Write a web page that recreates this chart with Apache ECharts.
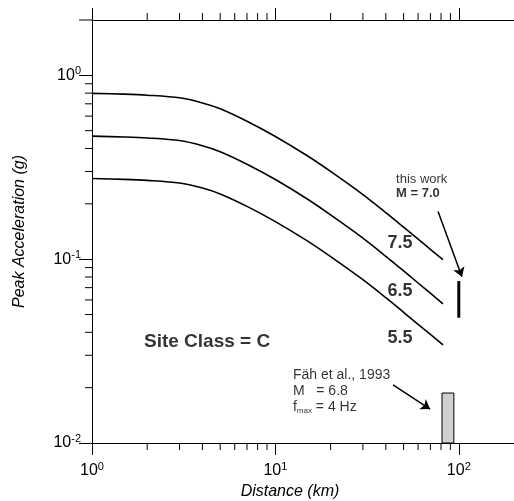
<!DOCTYPE html>
<html>
<head>
<meta charset="utf-8">
<script src="https://cdn.jsdelivr.net/npm/echarts@6/dist/echarts.min.js"></script>
<style>
html, body { margin: 0; padding: 0; background: #fff; }
#chart { width: 514px; height: 501px; }
</style>
</head>
<body>
<div id="chart"></div>
<script>
// distance (km) and peak acceleration (g)
var distances = [1, 1.5, 2, 3, 4, 5, 7, 10, 15, 20, 30, 40, 50, 60, 70, 82];
var pga75 = [0.798, 0.790, 0.780, 0.755, 0.708, 0.658, 0.563, 0.465, 0.364, 0.300, 0.2246, 0.1792, 0.1494, 0.1285, 0.1132, 0.0994];
var pga65 = [0.467, 0.462, 0.4564, 0.4417, 0.4139, 0.3843, 0.3286, 0.2712, 0.2118, 0.1741, 0.1302, 0.1037, 0.0864, 0.0742, 0.0653, 0.0572];
var pga55 = [0.2746, 0.2718, 0.2684, 0.2598, 0.2436, 0.2263, 0.1937, 0.1601, 0.1253, 0.1032, 0.0773, 0.0617, 0.0514, 0.0442, 0.0390, 0.0342];

var magNames = ['7.5', '6.5', '5.5'];
var magLabelAt = [[47.8, 0.123], [47.8, 0.0673], [47.8, 0.0373]];

// this work, M = 7.0
var thisWorkDist = 100;
var thisWorkPga = [0.048, 0.076];
// Fah et al. 1993 range
var fahDist = [81, 94];
var fahPga = [0.01, 0.0187];

var xMin = 1, xMax = 200, yMin = 0.01, yMax = 2;
var xMinor = [2, 3, 4, 5, 6, 7, 8, 9, 20, 30, 40, 50, 60, 70, 80, 90];
var yMinor = [0.02, 0.03, 0.04, 0.05, 0.06, 0.07, 0.08, 0.09, 0.2, 0.3, 0.4, 0.5, 0.6, 0.7, 0.8, 0.9];

var FONT = '"Liberation Sans", Arial, Helvetica, sans-serif';

function pairs(xs, ys) {
    var out = [];
    for (var i = 0; i < xs.length; i++) out.push([xs[i], ys[i]]);
    return out;
}

function powLabel(value) {
    var e = Math.round(Math.log(value) / Math.LN10);
    return '{b|10}{s|' + e + '}';
}

var labelRich = {
    b: { fontSize: 16, fontFamily: FONT, color: '#000', lineHeight: 20 },
    s: { fontSize: 11, fontFamily: FONT, color: '#000', lineHeight: 11, verticalAlign: 'top' }
};

function curve(name, data) {
    return {
        name: name,
        type: 'line',
        data: pairs(distances, data),
        smooth: 0.3,
        showSymbol: false,
        lineStyle: { color: '#000', width: 1.6 },
        z: 3
    };
}

function tickLine(x1, y1, x2, y2) {
    return { type: 'line', shape: { x1: x1, y1: y1, x2: x2, y2: y2 }, style: { stroke: '#000', lineWidth: 1 } };
}

var chart = echarts.init(document.getElementById('chart'));

var option = {
    animation: false,
    backgroundColor: '#fff',
    grid: { left: 92, right: 0, top: 20, bottom: 58, outerBoundsMode: 'none' },
    xAxis: [
        {
            type: 'log', logBase: 10, min: xMin, max: xMax, position: 'bottom',
            name: 'Distance (km)', nameLocation: 'middle', nameGap: 39,
            nameTextStyle: { fontFamily: FONT, fontSize: 16, fontStyle: 'italic', color: '#000', padding: [0, 26, 0, 0] },
            axisLine: { lineStyle: { color: '#000', width: 1 } },
            axisTick: { inside: false, length: 12, lineStyle: { color: '#000', width: 1 } },
            axisLabel: { margin: 18, formatter: powLabel, rich: labelRich, showMaxLabel: false },
            splitLine: { show: false }
        },
        {
            type: 'log', logBase: 10, min: xMin, max: xMax, position: 'top',
            axisLine: { lineStyle: { color: '#000', width: 1 } },
            axisTick: { inside: false, length: 12, lineStyle: { color: '#000', width: 1 } },
            axisLabel: { show: false },
            splitLine: { show: false }
        }
    ],
    yAxis: {
        type: 'log', logBase: 10, min: yMin, max: yMax,
        name: 'Peak Acceleration (g)', nameLocation: 'middle', nameGap: 64, nameRotate: 90,
        nameTextStyle: { fontFamily: FONT, fontSize: 16, fontStyle: 'italic', color: '#000' },
        axisLine: { lineStyle: { color: '#000', width: 1 } },
        axisTick: { inside: false, length: 13, lineStyle: { color: '#000', width: 1 } },
        axisLabel: { margin: 11, formatter: powLabel, rich: labelRich, showMaxLabel: false },
        splitLine: { show: false }
    },
    series: [
        curve('M7.5', pga75),
        curve('M6.5', pga65),
        curve('M5.5', pga55),
        {
            // minor ticks on the log axes
            type: 'custom',
            silent: true,
            clip: false,
            data: xMinor.map(function (v) { return [v, yMin]; }),
            renderItem: function (params, api) {
                var b = api.coord([api.value(0), yMin]);
                var t = api.coord([api.value(0), yMax]);
                return {
                    type: 'group',
                    children: [tickLine(b[0], b[1], b[0], b[1] + 7), tickLine(t[0], t[1], t[0], t[1] - 7)]
                };
            }
        },
        {
            type: 'custom',
            silent: true,
            clip: false,
            data: yMinor.map(function (v) { return [xMin, v]; }),
            renderItem: function (params, api) {
                var p = api.coord([xMin, api.value(1)]);
                return tickLine(p[0] - 7, p[1], p[0], p[1]);
            }
        },
        {
            // long tick at the top end of the y axis
            type: 'custom',
            silent: true,
            clip: false,
            data: [[xMin, yMax]],
            renderItem: function (params, api) {
                var p = api.coord([xMin, api.value(1)]);
                return tickLine(p[0] - 13, p[1], p[0], p[1]);
            }
        },
        {
            // Fah et al. bar
            type: 'custom',
            silent: true,
            data: [[fahDist[0], fahPga[0], fahDist[1], fahPga[1]]],
            renderItem: function (params, api) {
                var p0 = api.coord([api.value(0), api.value(3)]);
                var p1 = api.coord([api.value(2), api.value(1)]);
                return {
                    type: 'rect',
                    shape: { x: p0[0], y: p0[1], width: p1[0] - p0[0], height: p1[1] - p0[1] },
                    style: { fill: '#d0d0d0', stroke: '#000', lineWidth: 1 }
                };
            },
            z: 4
        },
        {
            // this work
            type: 'line',
            data: [[thisWorkDist, thisWorkPga[0]], [thisWorkDist, thisWorkPga[1]]],
            showSymbol: false,
            lineStyle: { color: '#000', width: 3 },
            z: 4
        },
        {
            type: 'lines',
            coordinateSystem: 'cartesian2d',
            symbol: ['none', 'arrow'],
            symbolSize: 9,
            silent: true,
            lineStyle: { color: '#000', width: 1.5, opacity: 1 },
            data: [
                { coords: [[77.1, 0.1815], [104, 0.0803]] },
                { coords: [[43.8, 0.0207], [69.7, 0.0153]] }
            ],
            z: 5
        },
        {
            type: 'scatter',
            symbolSize: 0,
            silent: true,
            z: 6,
            label: { show: true, position: 'inside', color: '#000', fontFamily: FONT },
            data: [
                { value: magLabelAt[0], label: { formatter: magNames[0], fontSize: 18, fontWeight: 'bold' } },
                { value: magLabelAt[1], label: { formatter: magNames[1], fontSize: 18, fontWeight: 'bold' } },
                { value: magLabelAt[2], label: { formatter: magNames[2], fontSize: 18, fontWeight: 'bold' } },
                { value: [4.24, 0.0355], label: { formatter: 'Site Class = C', fontSize: 19, fontWeight: 'bold' } },
                {
                    value: [45.5, 0.25],
                    label: {
                        align: 'left',
                        formatter: '{r|this work}\n{m|M = 7.0}',
                        rich: {
                            r: { fontSize: 13, fontFamily: FONT, color: '#000', lineHeight: 14 },
                            m: { fontSize: 13, fontFamily: FONT, color: '#000', fontWeight: 'bold', lineHeight: 14 }
                        }
                    }
                },
                {
                    value: [12.47, 0.0192],
                    label: {
                        align: 'left',
                        formatter: '{r|Fäh et al., 1993}\n{r|M   = 6.8}\n{r|f}{sub|max}{r| = 4 Hz}',
                        rich: {
                            r: { fontSize: 14, fontFamily: FONT, color: '#000', lineHeight: 16 },
                            sub: { fontSize: 8, fontFamily: FONT, color: '#000', lineHeight: 16, verticalAlign: 'bottom' }
                        }
                    }
                }
            ]
        }
    ]
};

chart.setOption(option);
</script>
</body>
</html>
